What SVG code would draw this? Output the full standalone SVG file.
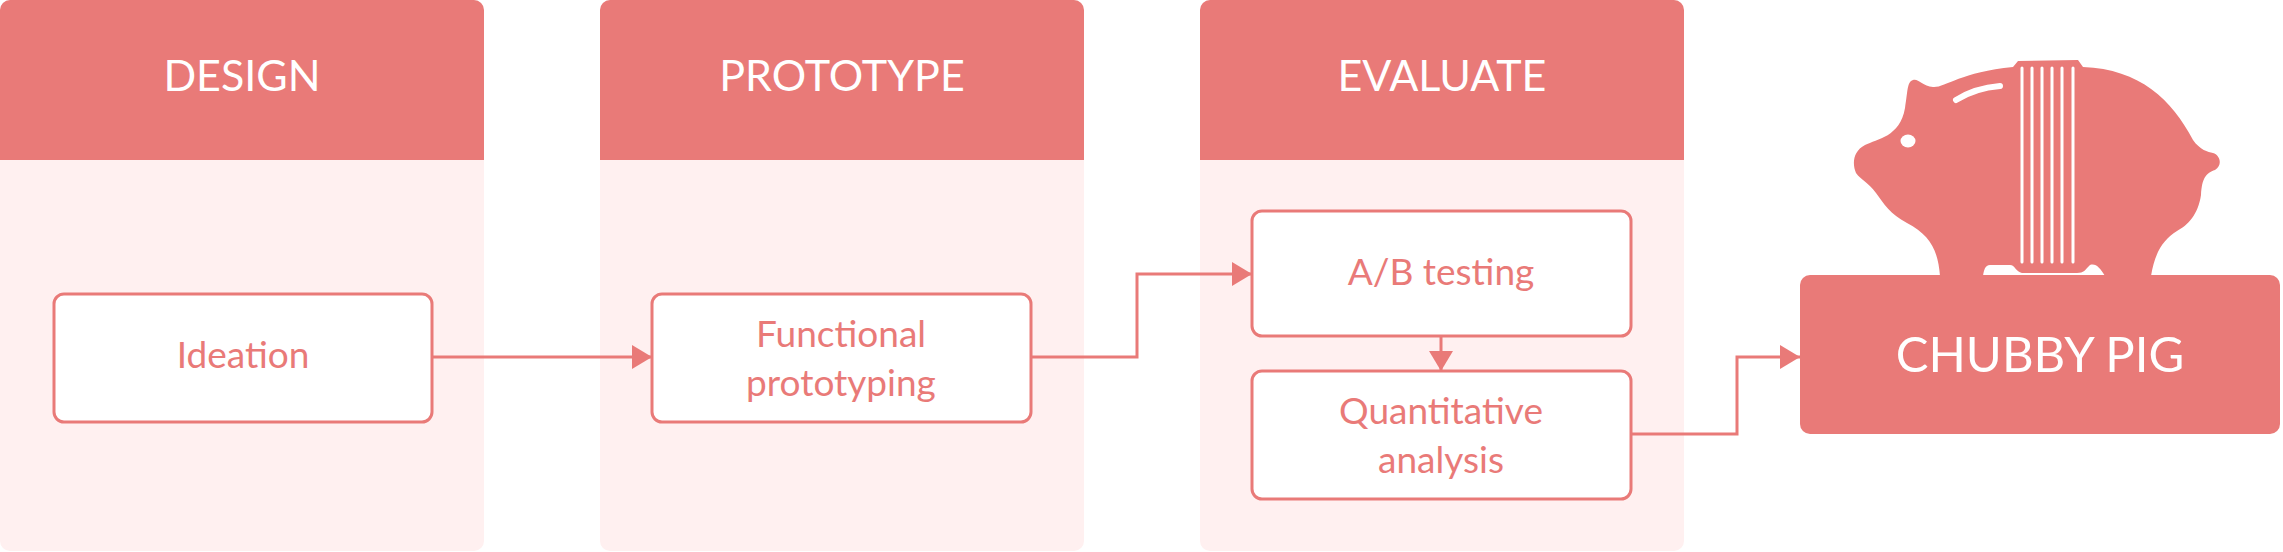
<svg xmlns="http://www.w3.org/2000/svg" width="2283" height="552" viewBox="0 0 2283 552">
<style>
.lane{fill:#FFF0F0}.hdr{fill:#E97A78}
.ht{font-family:Lato,"Liberation Sans",sans-serif;font-size:43px;fill:#fff;text-anchor:middle}
.box{fill:#fff;stroke:#E97A78;stroke-width:3}
.nt{font-family:Lato,"Liberation Sans",sans-serif;font-size:37px;fill:#E97A78;text-anchor:middle}
.cn{fill:none;stroke:#E97A78;stroke-width:3}
</style>
<defs><marker id="a" markerWidth="20" markerHeight="24" refX="20" refY="12" orient="auto" markerUnits="userSpaceOnUse"><path d="M0,0L20,12L0,24z" fill="#E97A78"/></marker></defs>
<g id="lane-design"><rect class="lane" x="0" y="0" width="484" height="551" rx="10"/><path class="hdr" d="M0,10a10,10 0 0 1 10,-10h464a10,10 0 0 1 10,10v150h-484z"/><text class="ht" x="242" y="91">DESIGN</text></g>
<g id="lane-prototype"><rect class="lane" x="600" y="0" width="484" height="551" rx="10"/><path class="hdr" d="M600,10a10,10 0 0 1 10,-10h464a10,10 0 0 1 10,10v150h-484z"/><text class="ht" x="842" y="91">PROTOTYPE</text></g>
<g id="lane-evaluate"><rect class="lane" x="1200" y="0" width="484" height="551" rx="10"/><path class="hdr" d="M1200,10a10,10 0 0 1 10,-10h464a10,10 0 0 1 10,10v150h-484z"/><text class="ht" x="1442" y="91">EVALUATE</text></g>
<g id="ideation"><rect class="box" x="54" y="294" width="378" height="128" rx="10"/><text class="nt" x="243" y="368">Ideation</text></g>
<g id="functional"><rect class="box" x="652" y="294" width="379" height="128" rx="10"/><text class="nt" x="841" y="347">Functional</text><text class="nt" x="841" y="396">prototyping</text></g>
<g id="ab"><rect class="box" x="1252" y="211" width="379" height="125" rx="10"/><text class="nt" x="1441" y="285">A/B testing</text></g>
<g id="quant"><rect class="box" x="1252" y="371" width="379" height="128" rx="10"/><text class="nt" x="1441" y="424">Quantitative</text><text class="nt" x="1441" y="473">analysis</text></g>
<g id="pig">
<path fill="#E97A78" d="M1913,80C1918,78 1922,86 1933,87C1945,88 1960,72 2013,67L2018,61L2078,60L2083,67C2140,69 2172,100 2193,140C2200,150 2208,152 2213,153C2220,155 2223,165 2215,170C2206,173 2202,178 2201,195C2198,215 2188,225 2177,231C2163,240 2155,252 2151,276L2105,276C2100,268 2096,263 2090,265C2085,270 2084,273 2077,273L2022,273C2016,272 2015,265 2010,265L1990,265C1985,265 1984,270 1983,276L1940,276C1938,250 1930,235 1907,223C1890,214 1884,204 1876,193C1868,182 1861,180 1856,173C1852,164 1853,151 1865,145C1877,139 1900,137 1905,108C1908,90 1907,82 1913,80Z"/>
<ellipse cx="1908" cy="141" rx="7.5" ry="6.5" fill="#fff"/>
<path d="M1956,100Q1975,88 2000,86" fill="none" stroke="#fff" stroke-width="6" stroke-linecap="round"/>
<g stroke="#fff" stroke-width="3" fill="none" stroke-linecap="round"><path d="M2022,68V262M2032,68V262M2042,68V262M2052,68V262M2062,68V262M2073,68V262"/></g>
</g>
<g id="chubby"><rect x="1800" y="275" width="480" height="159" rx="10" fill="#E97A78"/><text x="2040" y="372" font-family="Lato,'Liberation Sans',sans-serif" font-size="49" fill="#fff" text-anchor="middle">CHUBBY PIG</text></g>
<g id="connectors">
<path class="cn" d="M432,357H652" marker-end="url(#a)"/>
<path class="cn" d="M1031,357H1137V274H1252" marker-end="url(#a)"/>
<path class="cn" d="M1441,336V371" marker-end="url(#a)"/>
<path class="cn" d="M1631,434H1737V357H1800" marker-end="url(#a)"/>
</g>
</svg>
